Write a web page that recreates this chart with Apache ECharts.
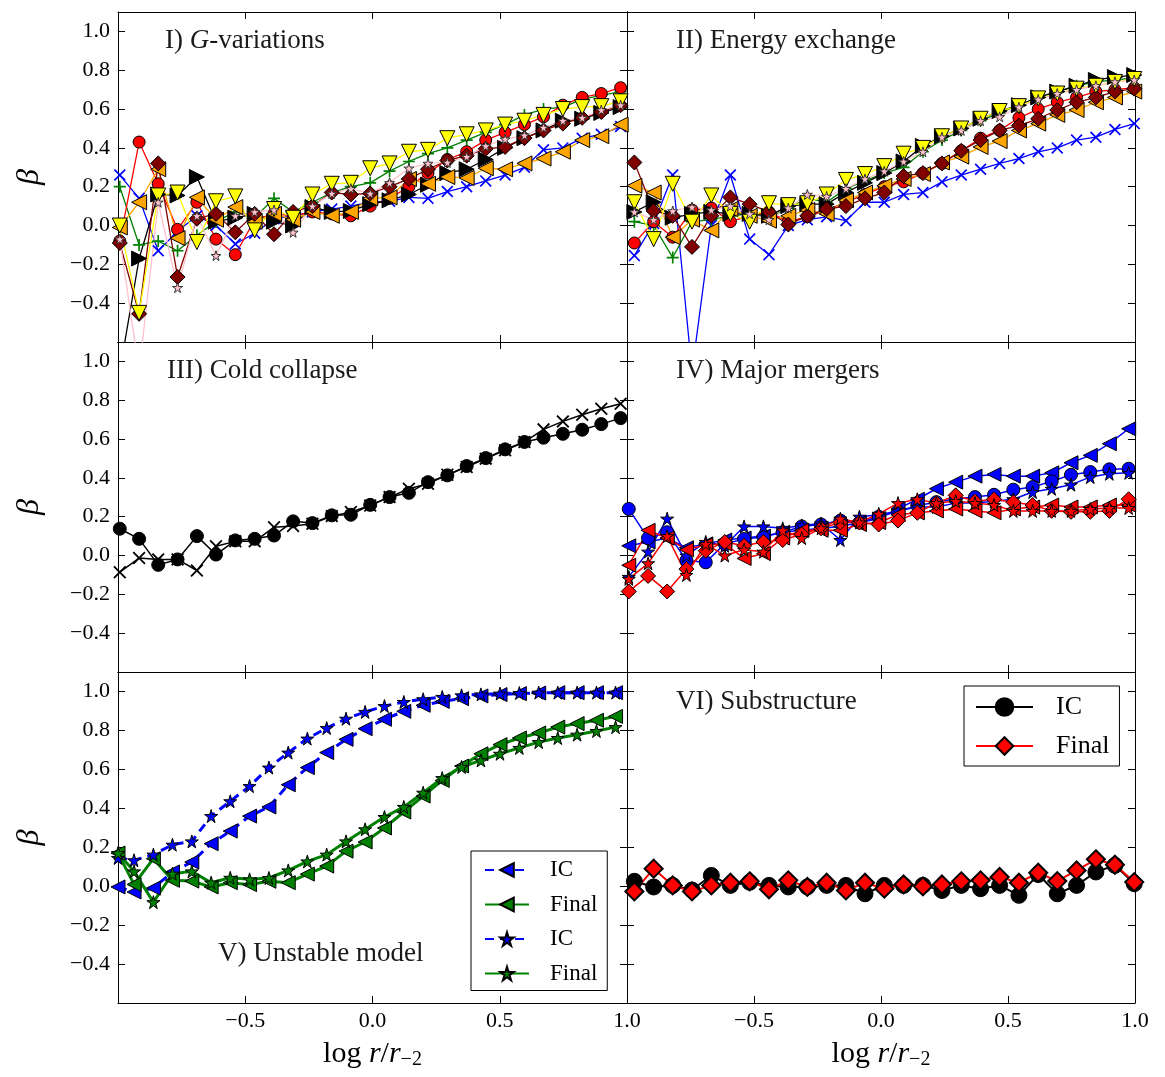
<!DOCTYPE html>
<html>
<head>
<meta charset="utf-8">
<script src="https://cdn.jsdelivr.net/npm/echarts@6/dist/echarts.min.js"></script>
<style>
html, body { margin: 0; padding: 0; background: #fff; }
#chart { width: 1165px; height: 1077px; }
</style>
</head>
<body>
<div id="chart"></div>
<script>
// radial bins (log r/r_-2) for each group of runs
const xA = [-0.993,-0.917,-0.842,-0.766,-0.690,-0.615,-0.539,-0.463,-0.387,-0.312,-0.236,-0.160,-0.085,-0.009,0.067,0.143,0.218,0.294,0.370,0.445,0.521,0.597,0.672,0.748,0.824,0.899,0.975]
const xB = [-0.971,-0.895,-0.820,-0.744,-0.668,-0.593,-0.517,-0.441,-0.365,-0.290,-0.214,-0.138,-0.063,0.013,0.089,0.165,0.240,0.316,0.392,0.467,0.543,0.619,0.694,0.770,0.846,0.921,0.997]
const xC = [-1.000,-0.937,-0.861,-0.786,-0.710,-0.634,-0.559,-0.483,-0.407,-0.331,-0.256,-0.180,-0.104,-0.029,0.047,0.123,0.199,0.274,0.350,0.426,0.501,0.577,0.653,0.728,0.804,0.880,0.955]

// I) G-variations
const gvBlue   = [0.26,0.14,-0.13,-0.03,0.05,0.0,-0.095,-0.04,0.035,0.05,0.07,0.085,0.1,0.12,0.125,0.145,0.14,0.175,0.2,0.23,0.26,0.3,0.39,0.4,0.45,0.47,0.51]
const gvGreen  = [0.2,-0.1,-0.08,-0.13,-0.05,0.02,0.07,0.04,0.14,0.07,0.12,0.17,0.2,0.22,0.28,0.33,0.37,0.4,0.44,0.48,0.52,0.57,0.6,0.61,0.65,0.67,0.69]
const gvRed    = [-0.08,0.43,0.215,-0.02,0.12,-0.07,-0.15,0.03,0.06,0.05,0.07,0.06,0.05,0.1,0.14,0.2,0.27,0.34,0.38,0.44,0.48,0.52,0.56,0.62,0.66,0.68,0.71]
const gvBlack  = [-0.75,-0.17,0.16,0.155,0.25,0.02,0.04,0.06,0.02,0.0,0.095,0.07,0.075,0.11,0.13,0.16,0.21,0.27,0.29,0.34,0.4,0.45,0.49,0.54,0.55,0.58,0.61]
const gvOrange = [-0.01,0.12,0.29,-0.065,0.145,0.03,0.095,0.02,0.06,0.03,0.07,0.05,0.07,0.14,0.145,0.24,0.215,0.25,0.245,0.295,0.29,0.32,0.345,0.38,0.44,0.46,0.52]
const gvMaroon = [-0.09,-0.455,0.32,-0.265,0.035,0.06,-0.035,0.06,-0.045,0.07,0.1,0.17,0.16,0.165,0.2,0.24,0.29,0.335,0.36,0.395,0.405,0.45,0.49,0.525,0.555,0.585,0.62]
const gvYellow = [0.0,-0.45,0.155,0.17,-0.085,0.125,0.15,-0.025,0.085,0.04,0.16,0.215,0.22,0.295,0.32,0.38,0.39,0.45,0.47,0.49,0.52,0.54,0.57,0.6,0.61,0.615,0.64]
const gvPink   = [-0.07,-0.75,0.12,-0.32,0.05,-0.155,0.05,0.07,0.08,-0.035,0.1,0.165,0.19,0.165,0.22,0.295,0.32,0.325,0.355,0.41,0.445,0.465,0.505,0.54,0.555,0.595,0.62]

// II) Energy exchange
const eeBlue   = [-0.155,0.01,0.26,-0.75,0.0,0.26,-0.07,-0.15,0.0,0.03,0.045,0.025,0.12,0.12,0.16,0.17,0.225,0.26,0.29,0.32,0.345,0.38,0.4,0.44,0.455,0.495,0.525]
const eeGreen  = [0.02,0.0,-0.165,0.02,0.03,0.05,0.06,0.04,0.09,0.14,0.12,0.19,0.23,0.27,0.3,0.38,0.44,0.49,0.54,0.58,0.62,0.66,0.69,0.72,0.74,0.75,0.76]
const eeRed    = [-0.09,0.02,-0.06,0.08,0.09,0.02,0.05,0.07,0.02,0.045,0.08,0.12,0.16,0.2,0.225,0.27,0.32,0.385,0.45,0.49,0.555,0.6,0.635,0.66,0.69,0.7,0.71]
const eeBlack  = [0.07,0.12,0.04,0.06,0.07,0.06,0.06,0.05,0.1,0.11,0.11,0.17,0.22,0.27,0.33,0.41,0.46,0.5,0.55,0.59,0.62,0.66,0.69,0.72,0.75,0.765,0.775]
const eeOrange = [0.205,0.17,-0.06,0.03,-0.025,0.085,0.05,0.025,0.05,0.08,0.06,0.13,0.17,0.205,0.24,0.265,0.325,0.355,0.405,0.435,0.49,0.525,0.57,0.595,0.635,0.66,0.69]
const eeMaroon = [0.325,0.075,0.05,-0.11,0.05,0.145,0.11,0.07,0.005,0.05,0.085,0.1,0.14,0.17,0.255,0.27,0.32,0.385,0.44,0.49,0.515,0.55,0.595,0.635,0.66,0.69,0.705]
const eeYellow = [0.12,-0.07,0.215,0.02,0.155,0.06,0.02,0.115,0.105,0.115,0.16,0.235,0.265,0.306,0.37,0.4,0.46,0.5,0.55,0.59,0.615,0.655,0.68,0.705,0.72,0.74,0.755]
const eePink   = [0.07,0.03,0.075,0.095,0.08,0.1,0.06,0.03,0.09,0.16,0.15,0.19,0.24,0.28,0.33,0.38,0.455,0.49,0.54,0.56,0.61,0.65,0.68,0.7,0.72,0.74,0.75]

// III) Cold collapse
const ccCircle = [0.138,0.086,-0.048,-0.02,0.1,0.005,0.078,0.086,0.103,0.176,0.167,0.207,0.21,0.261,0.301,0.323,0.378,0.413,0.461,0.502,0.547,0.585,0.607,0.627,0.648,0.677,0.708]
const ccCross  = [-0.086,-0.013,-0.02,-0.02,-0.077,0.048,0.073,0.073,0.146,0.152,0.164,0.203,0.224,0.258,0.301,0.344,0.37,0.416,0.456,0.499,0.542,0.585,0.65,0.691,0.725,0.756,0.782]

// IV) Major mergers
const mmBlueTri  = [0.05,0.07,0.09,0.04,0.06,0.08,0.09,0.1,0.12,0.13,0.14,0.15,0.17,0.19,0.24,0.29,0.344,0.378,0.409,0.418,0.409,0.409,0.426,0.478,0.516,0.576,0.653]
const mmBlueCirc = [0.24,0.09,0.12,-0.025,-0.035,0.06,0.085,0.095,0.12,0.15,0.16,0.18,0.17,0.2,0.227,0.258,0.275,0.292,0.301,0.313,0.339,0.353,0.382,0.416,0.43,0.444,0.447]
const mmBlueStar = [-0.11,0.02,0.19,0.0,0.07,0.05,0.15,0.15,0.14,0.155,0.165,0.08,0.2,0.21,0.23,0.25,0.25,0.27,0.27,0.28,0.29,0.327,0.344,0.365,0.404,0.421,0.426]
const mmRedTri   = [-0.05,0.13,0.09,0.03,0.055,0.06,-0.015,0.01,0.09,0.13,0.13,0.13,0.16,0.17,0.21,0.22,0.23,0.24,0.23,0.22,0.24,0.25,0.26,0.25,0.25,0.26,0.26]
const mmRedDiam  = [-0.185,-0.105,-0.185,-0.07,0.025,0.07,0.05,0.07,0.08,0.11,0.14,0.17,0.17,0.16,0.18,0.22,0.27,0.31,0.28,0.29,0.275,0.26,0.23,0.225,0.225,0.23,0.29]
const mmRedStar  = [-0.12,-0.04,0.1,-0.1,0.06,0.0,0.03,0.02,0.13,0.09,0.14,0.19,0.17,0.215,0.27,0.29,0.27,0.28,0.27,0.26,0.23,0.23,0.23,0.23,0.24,0.245,0.245]

// V) Unstable model
const umIcTri   = [-0.004,-0.03,-0.01,0.073,0.124,0.218,0.283,0.36,0.407,0.521,0.609,0.686,0.754,0.809,0.857,0.898,0.929,0.949,0.963,0.977,0.984,0.989,0.992,0.994,0.994,0.994,0.994]
const umFinTri  = [0.17,0.009,0.141,0.03,0.026,-0.004,0.018,0.008,0.025,0.018,0.062,0.103,0.18,0.227,0.299,0.381,0.463,0.543,0.617,0.68,0.727,0.761,0.787,0.817,0.835,0.852,0.872]
const umIcStar  = [0.145,0.133,0.162,0.213,0.23,0.36,0.436,0.514,0.609,0.686,0.758,0.812,0.86,0.895,0.925,0.946,0.96,0.972,0.98,0.985,0.989,0.992,0.994,0.994,0.994,0.994,0.994]
const umFinStar = [0.17,0.076,-0.082,0.064,0.076,0.018,0.043,0.035,0.042,0.081,0.127,0.162,0.23,0.292,0.355,0.407,0.48,0.555,0.612,0.646,0.68,0.71,0.74,0.761,0.778,0.797,0.817]

// VI) Substructure
const ssIc    = [0.025,-0.004,0.004,-0.02,0.055,0.004,0.02,0.004,-0.004,-0.004,0.004,0.004,-0.039,0.004,0.004,0.004,-0.022,0.004,-0.013,0.004,-0.047,0.06,-0.039,0.004,0.073,0.107,0.013]
const ssFinal = [-0.027,0.09,0.004,-0.027,0.004,0.018,0.025,-0.016,0.03,-0.004,0.018,-0.022,0.018,-0.013,0.009,-0.001,0.009,0.025,0.03,0.047,0.018,0.069,0.026,0.081,0.138,0.11,0.021]

const xTicks = [-1, -0.5, 0, 0.5, 1]
const yTicks = [-0.6, -0.4, -0.2, 0, 0.2, 0.4, 0.6, 0.8, 1.0]

const SERIF = 'Liberation Serif'
const CROSS = 'path://M1,0L5,4L9,0L10,1L6,5L10,9L9,10L5,6L1,10L0,9L4,5L0,1Z'
const PLUS = 'path://M4.3,0H5.7V4.3H10V5.7H5.7V10H4.3V5.7H0V4.3H4.3Z'
const STAR = 'path://M50,0L61,35L98,35L68,57L79,91L50,70L21,91L32,57L2,35L39,35Z'

function fmt(v) {
  const s = Math.abs(v).toFixed(1)
  return v < -1e-9 ? '\u2212' + s : s
}

const grids = [
  { left: 118, top: 12, width: 509, height: 330 },
  { left: 627, top: 12, width: 508, height: 330 },
  { left: 118, top: 342, width: 509, height: 330 },
  { left: 627, top: 342, width: 508, height: 330 },
  { left: 118, top: 672, width: 509, height: 331 },
  { left: 627, top: 672, width: 508, height: 331 }
]

const axisLine = { onZero: false, lineStyle: { color: '#000', width: 1 } }
const axisTick = { inside: true, length: 7, lineStyle: { color: '#000', width: 1 } }
const labelFont = { fontFamily: SERIF, fontSize: 22, color: '#000' }

const xAxis = []
const yAxis = []
grids.forEach((g, i) => {
  const bottomRow = i >= 4
  const leftCol = i % 2 === 0
  xAxis.push({
    gridIndex: i, type: 'value', min: xTicks[0], max: xTicks[4], interval: 0.5, position: 'bottom',
    axisLine, axisTick, splitLine: { show: false },
    axisLabel: Object.assign({ show: bottomRow, margin: 7, formatter: v => (v < -0.99 ? '' : fmt(v)) }, labelFont),
    name: bottomRow ? '{n|log }{i|r}{n|/}{i|r}{s|\u22122}' : '',
    nameLocation: 'middle', nameGap: 35,
    nameTextStyle: {
      rich: {
        n: { fontFamily: SERIF, fontSize: 30, color: '#000' },
        i: { fontFamily: SERIF, fontSize: 30, fontStyle: 'italic', color: '#000' },
        s: { fontFamily: SERIF, fontSize: 20, color: '#000', padding: [12, 0, 0, 0] }
      }
    }
  })
  xAxis.push({
    gridIndex: i, type: 'value', min: -1, max: 1, interval: 0.5, position: 'top',
    axisLine, axisTick, splitLine: { show: false }, axisLabel: { show: false }
  })
  yAxis.push({
    gridIndex: i, type: 'value', min: yTicks[0], max: 1.1, interval: 0.2, position: 'left',
    axisLine, axisTick, splitLine: { show: false },
    axisLabel: Object.assign({
      show: leftCol, margin: 8,
      formatter: v => (v < -0.55 || v > 1.05 ? '' : fmt(v))
    }, labelFont),
    name: leftCol ? '\u03b2' : '', nameLocation: 'middle', nameGap: 72, nameRotate: 90,
    nameTextStyle: { fontFamily: SERIF, fontSize: 32, fontStyle: 'italic', color: '#000' }
  })
  yAxis.push({
    gridIndex: i, type: 'value', min: -0.6, max: 1.1, interval: 0.2, position: 'right',
    axisLine, axisTick, splitLine: { show: false }, axisLabel: { show: false }
  })
})

function line(g, xs, ys, o) {
  return {
    type: 'line', name: o.name || ('s' + g + o.fill),
    xAxisIndex: 2 * g, yAxisIndex: 2 * g,
    data: xs.map((x, k) => [x, ys[k]]),
    symbol: o.symbol, symbolSize: o.size, symbolRotate: o.rot || 0,
    showSymbol: true, clip: true, animation: false,
    lineStyle: { color: o.line, width: o.w || 1.3, type: o.dash || 'solid' },
    itemStyle: { color: o.fill, borderColor: o.edge || '#000', borderWidth: o.bw == null ? 1 : o.bw },
    emphasis: { disabled: true },
    z: o.z || 2
  }
}

const BLUE = '#0000ff', GREEN = '#008000', RED = '#ff0000', ORANGE = '#ffa500',
      MAROON = '#800000', YELLOW = '#ffff00', PINK = '#ffc0cb'

function ensemble(g, xs, d) {
  return [
    line(g, xs, d.blue,   { symbol: CROSS, size: 12, fill: BLUE, line: BLUE, bw: 0 }),
    line(g, xs, d.green,  { symbol: PLUS, size: 12, fill: GREEN, line: GREEN, bw: 0 }),
    line(g, xs, d.red,    { symbol: 'circle', size: 12, fill: RED, line: RED }),
    line(g, xs, d.black,  { symbol: 'triangle', size: 15, rot: -90, fill: '#000', line: '#000' }),
    line(g, xs, d.orange, { symbol: 'triangle', size: 15, rot: 90, fill: ORANGE, line: ORANGE }),
    line(g, xs, d.maroon, { symbol: 'diamond', size: 15, fill: MAROON, line: MAROON }),
    line(g, xs, d.yellow, { symbol: 'triangle', size: 15, rot: 180, fill: YELLOW, line: YELLOW }),
    line(g, xs, d.pink,   { symbol: STAR, size: 10, fill: PINK, line: PINK, edge: '#333' })
  ]
}

const series = [].concat(
  ensemble(0, xA, { blue: gvBlue, green: gvGreen, red: gvRed, black: gvBlack, orange: gvOrange, maroon: gvMaroon, yellow: gvYellow, pink: gvPink }),
  ensemble(1, xB, { blue: eeBlue, green: eeGreen, red: eeRed, black: eeBlack, orange: eeOrange, maroon: eeMaroon, yellow: eeYellow, pink: eePink }),
  [
    line(2, xA, ccCircle, { symbol: 'circle', size: 13, fill: '#000', line: '#000', w: 1.5 }),
    line(2, xA, ccCross,  { symbol: CROSS, size: 13, fill: '#000', line: '#000', w: 1.5, bw: 0 }),

    line(3, xA, mmBlueTri,  { symbol: 'triangle', size: 14, rot: 90, fill: BLUE, line: BLUE, w: 1.5 }),
    line(3, xA, mmBlueCirc, { symbol: 'circle', size: 13, fill: BLUE, line: BLUE, w: 1.5 }),
    line(3, xA, mmBlueStar, { symbol: STAR, size: 13, fill: BLUE, line: BLUE, w: 1.5 }),
    line(3, xA, mmRedTri,   { symbol: 'triangle', size: 14, rot: 90, fill: RED, line: RED, w: 1.5 }),
    line(3, xA, mmRedDiam,  { symbol: 'diamond', size: 15, fill: RED, line: RED, w: 1.5 }),
    line(3, xA, mmRedStar,  { symbol: STAR, size: 13, fill: RED, line: RED, w: 1.5 }),

    line(4, xC, umIcTri,   { name: 'IC_t', symbol: 'triangle', size: 14, rot: 90, fill: BLUE, line: BLUE, w: 3, dash: [9, 6] }),
    line(4, xC, umFinTri,  { name: 'Final_t', symbol: 'triangle', size: 14, rot: 90, fill: GREEN, line: GREEN, w: 3 }),
    line(4, xC, umIcStar,  { name: 'IC_s', symbol: STAR, size: 13, fill: BLUE, line: BLUE, w: 3, dash: [9, 6] }),
    line(4, xC, umFinStar, { name: 'Final_s', symbol: STAR, size: 13, fill: GREEN, line: GREEN, w: 3 }),

    line(5, xB, ssIc,    { name: 'IC', symbol: 'circle', size: 16, fill: '#000', line: '#000', w: 2 }),
    line(5, xB, ssFinal, { name: 'Final', symbol: 'diamond', size: 18, fill: RED, line: RED, w: 2, bw: 2 })
  ]
)

const titleRich = {
  a: { fontFamily: SERIF, fontSize: 27, fontWeight: 'normal', color: '#1a1a1a' },
  i: { fontFamily: SERIF, fontSize: 27, fontWeight: 'normal', fontStyle: 'italic', color: '#1a1a1a' }
}
function panelTitle(text, left, top) {
  return { text, left, top, padding: 0, textStyle: { fontWeight: 'normal', rich: titleRich } }
}

const legendBase = {
  orient: 'vertical', backgroundColor: '#fff', borderColor: '#000', borderWidth: 1, borderRadius: 0,
  formatter: n => n.split('_')[0], selectedMode: false
}

const option = {
  backgroundColor: '#fff',
  animation: false,
  grid: grids,
  xAxis, yAxis, series,
  title: [
    panelTitle('{a|I) }{i|G}{a|-variations}', 165, 27),
    panelTitle('{a|II) Energy exchange}', 676, 27),
    panelTitle('{a|III) Cold collapse}', 167, 357),
    panelTitle('{a|IV) Major mergers}', 676, 357),
    panelTitle('{a|V) Unstable model}', 218, 940),
    panelTitle('{a|VI) Substructure}', 676, 688)
  ],
  legend: [
    Object.assign({}, legendBase, {
      data: ['IC_t', 'Final_t', 'IC_s', 'Final_s'],
      left: 471, top: 851, padding: [7, 10, 5, 13],
      itemWidth: 44, itemHeight: 17, itemGap: 10.5,
      textStyle: { fontFamily: SERIF, fontSize: 23, color: '#000', lineHeight: 24, padding: [0, 0, 0, 16] }
    }),
    Object.assign({}, legendBase, {
      data: ['IC', 'Final'],
      left: 964, top: 686, padding: [8, 10, 7, 11],
      itemWidth: 57, itemHeight: 22, itemGap: 13,
      textStyle: { fontFamily: SERIF, fontSize: 26, color: '#000', lineHeight: 26, padding: [0, 0, 0, 18] }
    })
  ]
}

const chart = echarts.init(document.getElementById('chart'), null, { renderer: 'canvas' })
chart.setOption(option)
</script>
</body>
</html>
